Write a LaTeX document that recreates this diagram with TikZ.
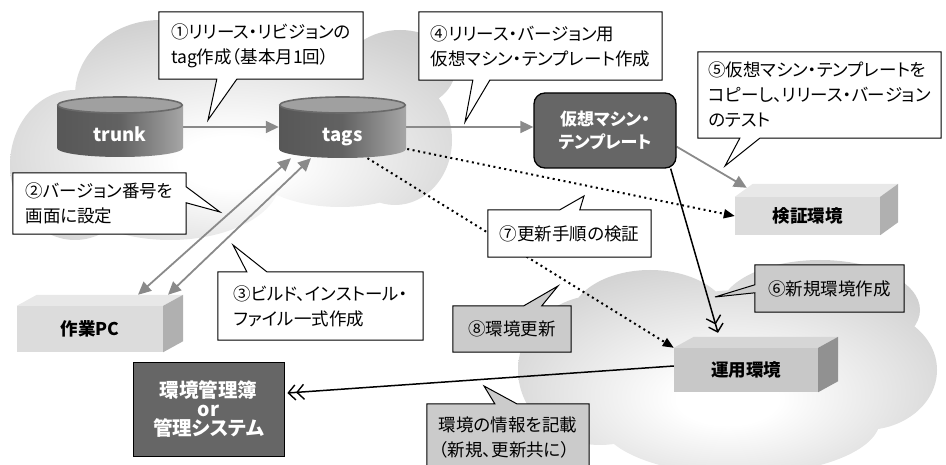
\documentclass[tikz,border=0pt]{standalone}
\usepackage{fontspec}
\setmainfont{Noto Sans CJK JP}[RawFeature=+palt]
\usetikzlibrary{arrows.meta,calc}
\definecolor{arrgray}{HTML}{8A8A8A}
\definecolor{cloudmid}{HTML}{D2D2D2}
\definecolor{cloudedge}{HTML}{BDBDBD}
\definecolor{cylL}{HTML}{575757}
\definecolor{cylM}{HTML}{626262}
\definecolor{cylR}{HTML}{A6A6A6}
\definecolor{cyltopf}{HTML}{A0A0A0}
\definecolor{cylrim}{HTML}{6A6A6A}
\definecolor{darkbox}{HTML}{666666}
\definecolor{cgray}{HTML}{CBCBCB}
\definecolor{kenF}{HTML}{DCDCDC}
\definecolor{kenT}{HTML}{E8E8E8}
\definecolor{kenS}{HTML}{B0B0B0}
\definecolor{unyoF}{HTML}{C8C8C8}
\definecolor{unyoT}{HTML}{D6D6D6}
\definecolor{unyoS}{HTML}{919191}
\pgfdeclareradialshading{cloudsh}{\pgfpoint{0bp}{-8bp}}{color(0bp)=(white); color(6bp)=(white); color(30bp)=(cloudmid); color(46bp)=(cloudedge); color(75bp)=(cloudedge)}
\pgfdeclarelayer{bg}
\pgfdeclarelayer{conn}
\pgfdeclarelayer{mid}
\pgfsetlayers{bg,conn,mid,main}
\newcommand\drawcyl[4]{%
  \shade[left color=cylL,right color=cylR,middle color=cylM] (#1-#4,#2) -- (#1-#4,#3) arc[start angle=180,end angle=360,x radius=#4,y radius=9] -- (#1+#4,#2) -- cycle;
  \filldraw[fill=cyltopf,draw=cylrim,line width=1.6pt] (#1,#2) ellipse[x radius=#4-0.8,y radius=8];}
\newcommand\boxfaces[5]{%
  \fill[#4] (#1.north west) -- ++(#2,#3) -- ($(#1.north east)+(#2,#3)$) -- (#1.north east) -- cycle;
  \fill[#5] (#1.north east) -- ++(#2,#3) -- ($(#1.south east)+(#2,#3)$) -- (#1.south east) -- cycle;}
\begin{document}
\begin{tikzpicture}[x=1pt,y=1pt,
  cylnode/.style={minimum width=126,minimum height=60,inner sep=0pt,text=white,
    font=\bfseries\fontsize{18.5}{20}\selectfont,text height=29pt,text depth=0pt},
  vmbox/.style={rounded corners=11pt,fill=darkbox,draw=black,line width=1.3pt,text=white,
    minimum width=142,minimum height=75,inner sep=0pt,align=center,
    font=\bfseries\fontsize{17}{23}\selectfont},
  box3d/.style={inner sep=0pt,font=\bfseries\fontsize{17.5}{20}\selectfont},
  kanribox/.style={fill=darkbox,draw=black,line width=0.8pt,text=white,inner sep=0pt,
    minimum width=151,minimum height=94,align=center,
    font=\bfseries\fontsize{19.5}{19}\selectfont},
  ctext/.style={inner sep=0pt,align=left,font=\fontsize{17.5}{25}\selectfont},
  cobw/.style={fill=white,draw=black,line width=1pt},
  cobg/.style={fill=cgray,draw=black,line width=1pt},
  garrow/.style={draw=arrgray,line width=1.8pt,-{Triangle[length=13pt,width=12pt]}},
  garrowboth/.style={draw=arrgray,line width=1.8pt,{Triangle[length=13pt,width=12pt]}-{Triangle[length=13pt,width=12pt]}},
  darrow/.style={draw=black,line width=2pt,dash pattern=on 2pt off 3.5pt,-{Triangle[length=11pt,width=9pt]}},
  barrow/.style={draw=black,line width=1.5pt,-{Straight Barb[length=7pt,width=15pt,line width=1.4pt]Straight Barb[length=7pt,width=15pt,line width=1.4pt]}}
]
\useasboundingbox (0,0) rectangle (946,-465);

% clouds
\begin{pgfonlayer}{bg}
\shade[shading=cloudsh]
  (75,-165) ellipse[x radius=65,y radius=75]
  (160,-95) ellipse[x radius=85,y radius=75]
  (290,-110) ellipse[x radius=120,y radius=85]
  (170,-180) ellipse[x radius=110,y radius=60]
  (340,-165) ellipse[x radius=90,y radius=42]
  (395,-140) ellipse[x radius=57,y radius=65]
  (400,-70) ellipse[x radius=55,y radius=40];
\shade[shading=cloudsh]
  (600,-370) ellipse[x radius=82,y radius=75]
  (650,-320) ellipse[x radius=80,y radius=50]
  (820,-310) ellipse[x radius=100,y radius=50]
  (865,-370) ellipse[x radius=72,y radius=60]
  (740,-420) ellipse[x radius=140,y radius=55]
  (740,-360) ellipse[x radius=120,y radius=70];
\end{pgfonlayer}

% cylinders
\drawcyl{120}{-105}{-148}{63}
\drawcyl{342.5}{-105}{-149}{63.5}
\node[cylnode] (trunk) at (120,-127) {trunk};
\node[cylnode,minimum width=127] (tags) at (342.5,-127) {tags};

% boxes
\node[vmbox] (vm) at (605,-130.5) {仮想マシン・\\テンプレート};
\node[box3d,fill=kenF,minimum width=145,minimum height=38] (ken) at (807.5,-216) {検証環境};
\boxfaces{ken}{18}{13}{kenT}{kenS}
\node[box3d,fill=kenF,minimum width=146,minimum height=46] (pc) at (90,-329) {作業PC};
\boxfaces{pc}{20}{11}{kenT}{kenS}
\node[box3d,fill=unyoF,minimum width=144,minimum height=44] (unyo) at (746,-370) {運用環境};
\boxfaces{unyo}{20}{11}{unyoT}{unyoS}
\node[kanribox] (kanri) at (208.5,-409) {環境管理簿\\or\\管理システム};

% callout texts
\node[ctext,minimum width=204,minimum height=67] (c1) at (261,-45.5) {①リリース・リビジョンの\\tag作成（基本月1回）};
\node[ctext,minimum width=173,minimum height=61] (c2) at (99.5,-203.5) {②バージョン番号を\\画面に設定};
\node[ctext,minimum width=205,minimum height=68] (c3) at (320.5,-306) {③ビルド、インストール・\\ファイル一式作成};
\node[ctext,minimum width=243,minimum height=68] (c4) at (540.5,-46) {④リリース・バージョン用\\仮想マシン・テンプレート作成};
\node[ctext,minimum width=243,minimum height=86] (c5) at (819.5,-95) {⑤仮想マシン・テンプレートを\\コピーし、リリース・バージョン\\のテスト};
\node[ctext,minimum width=149,minimum height=47] (c6) at (829.5,-288.5) {⑥新規環境作成};
\node[ctext,minimum width=163,minimum height=47] (c7) at (569.5,-233.5) {⑦更新手順の検証};
\node[ctext,minimum width=118,minimum height=46] (c8) at (512,-329) {⑧環境更新};
\node[ctext,minimum width=162,minimum height=66] (c9) at (508,-437) {環境の情報を記載\\（新規、更新共に）};

% pointer tips
\coordinate (t1) at (208,-120);
\coordinate (t2) at (220,-212);
\coordinate (t3) at (233,-245);
\coordinate (t4) at (465,-122);
\coordinate (t5) at (725,-166);
\coordinate (t6) at (715,-297);
\coordinate (t7) at (584,-196);
\coordinate (t8) at (558,-286);
\coordinate (t9) at (484,-386);

\begin{pgfonlayer}{mid}
\path[cobw] (c1.north west) -- (c1.north east) -- (c1.south east) -- ($(c1.south west)+(78,0)$) -- (t1) -- ($(c1.south west)+(58,0)$) -- (c1.south west) -- cycle;
\path[cobw] (c2.north west) -- (c2.north east) -- ($(c2.north east)+(0,-14)$) -- (t2) -- ($(c2.north east)+(0,-30)$) -- (c2.south east) -- (c2.south west) -- cycle;
\path[cobw] (c3.north west) -- ($(c3.north west)+(29,0)$) -- (t3) -- ($(c3.north west)+(49,0)$) -- (c3.north east) -- (c3.south east) -- (c3.south west) -- cycle;
\path[cobw] (c4.north west) -- (c4.north east) -- (c4.south east) -- ($(c4.south west)+(71,0)$) -- (t4) -- ($(c4.south west)+(54,0)$) -- (c4.south west) -- cycle;
\path[cobw] (c5.north west) -- (c5.north east) -- (c5.south east) -- ($(c5.south west)+(62,0)$) -- (t5) -- ($(c5.south west)+(42,0)$) -- (c5.south west) -- cycle;
\path[cobg] (c6.north west) -- (c6.north east) -- (c6.south east) -- (c6.south west) -- ($(c6.north west)+(0,-28)$) -- (t6) -- ($(c6.north west)+(0,-20)$) -- cycle;
\path[cobw] (c7.north west) -- ($(c7.north west)+(72,0)$) -- (t7) -- ($(c7.north west)+(92,0)$) -- (c7.north east) -- (c7.south east) -- (c7.south west) -- cycle;
\path[cobg] (c8.north west) -- ($(c8.north west)+(71,0)$) -- (t8) -- ($(c8.north west)+(89,0)$) -- (c8.north east) -- (c8.south east) -- (c8.south west) -- cycle;
\path[cobg] (c9.north west) -- ($(c9.north west)+(68,0)$) -- (t9) -- ($(c9.north west)+(90,0)$) -- (c9.north east) -- (c9.south east) -- (c9.south west) -- cycle;
\end{pgfonlayer}

% connectors
\begin{pgfonlayer}{conn}
\draw[garrow] (trunk.east) -- (tags.west);
\draw[garrow] (tags.east) -- (tags.east -| vm.west);
\draw[garrow] ($(vm.south east)+(0,22)$) -- ($(ken.north west)+(12,9)$);
\draw[garrowboth] ($(tags.south)+(-51.5,-1)$) -- ($(pc.north)+(48,11)$);
\draw[garrowboth] ($(tags.south)+(-31.5,-1)$) -- ($(pc.north)+(78,11)$);
\draw[darrow] ($(tags.east)+(1,-22)$) -- (ken.west);
\draw[darrow] ($(tags.south)+(25,-1)$) -- (unyo.north west);
\draw[barrow] ($(vm.south east)+(-6,0)$) -- ($(unyo.north)+(-28,15)$);
\draw[barrow] ($(unyo.west)+(0,4)$) -- ($(kanri.east)+(3,16)$);
\end{pgfonlayer}
\end{tikzpicture}
\end{document}
